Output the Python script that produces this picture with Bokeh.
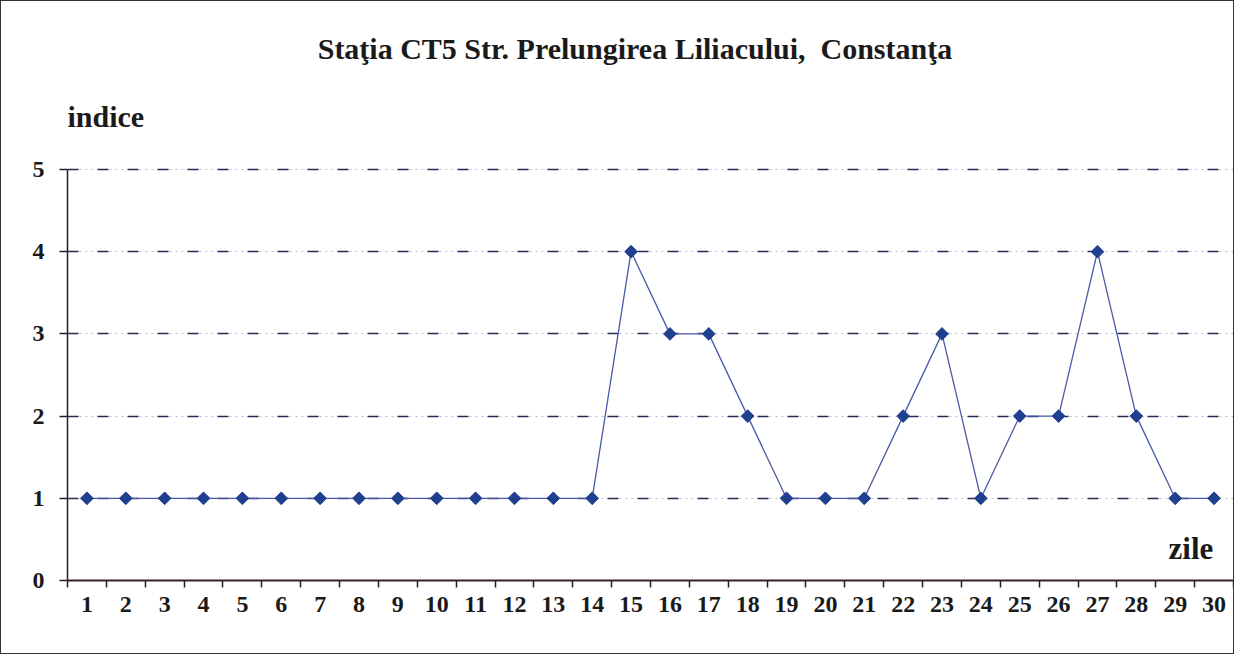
import math
from bokeh.plotting import figure
from bokeh.models import FixedTicker, Label, Range1d, Grid
from bokeh.embed import file_html
from bokeh.resources import INLINE

days = list(range(1, 31))
indice = [1, 1, 1, 1, 1, 1, 1, 1, 1, 1, 1, 1, 1, 1, 4, 3, 3, 2, 1, 1, 1, 2, 3, 1, 2, 2, 4, 2, 1, 1]
y_ticks = [0, 1, 2, 3, 4, 5]
grid_ticks = [1, 2, 3, 4, 5]
title_text = "Staţia CT5 Str. Prelungirea Liliacului,\u00a0 Constanţa"
y_label = "indice"
x_label = "zile"

FONT = "Liberation Serif"

# frame spans almost the whole figure so that texts above the axes are not clipped
Y_TOP = 5 * 575 / 411.0

p = figure(width=1234, height=654, output_backend="svg", toolbar_location=None,
           x_range=Range1d(0.5, 30.5), y_range=Range1d(0, Y_TOP),
           min_border_left=66, min_border_right=2, min_border_top=4, min_border_bottom=75)
p.outline_line_color = None
p.background_fill_color = "white"
p.border_fill_color = "white"
p.styles = {"border": "1px solid #333333"}

# grids
p.xgrid.visible = False
p.ygrid.ticker = FixedTicker(ticks=grid_ticks)
p.ygrid.grid_line_color = "#b8b8c8"
p.ygrid.grid_line_dash = "2 4"
p.ygrid.grid_line_width = 1
g2 = Grid(dimension=1, ticker=FixedTicker(ticks=grid_ticks),
          grid_line_color="#2a2a55", grid_line_dash="11 19", grid_line_width=1.6)
p.add_layout(g2)

# x axis
xa = p.xaxis[0]
xa.ticker = FixedTicker(ticks=days, minor_ticks=[d + 0.5 for d in [0] + days])
xa.major_tick_out = 0
xa.major_tick_in = 0
xa.minor_tick_out = 7
xa.minor_tick_in = 0
xa.minor_tick_line_color = "#222222"
xa.minor_tick_line_width = 1.5
xa.axis_line_color = "#3a2020"
xa.axis_line_width = 2
xa.major_label_text_font = FONT
xa.major_label_text_font_style = "bold"
xa.major_label_text_font_size = "24px"
xa.major_label_text_color = "#1a1a1a"
xa.major_label_standoff = 9

# y axis
ya = p.yaxis[0]
ya.ticker = FixedTicker(ticks=y_ticks)
ya.bounds = (0, 5)
ya.minor_tick_line_color = None
ya.major_tick_out = 8
ya.major_tick_in = 0
ya.major_tick_line_color = "#222222"
ya.major_tick_line_width = 1.5
ya.axis_line_color = "#222222"
ya.axis_line_width = 1.5
ya.major_label_text_font = FONT
ya.major_label_text_font_style = "bold"
ya.major_label_text_font_size = "24px"
ya.major_label_text_color = "#1a1a1a"
ya.major_label_standoff = 15

# data
p.line(days, indice, line_color="#4a5aa8", line_width=1.3)
p.scatter(days, indice, marker="square", angle=math.pi / 4, size=9,
          fill_color="#1f3f8f", line_color="#1f3f8f")

# texts
p.add_layout(Label(x=15.1, y=6.472, text=title_text, text_font=FONT, text_font_style="bold",
                   text_font_size="30px", text_align="center", text_baseline="middle",
                   text_color="#1a1a1a"))
p.add_layout(Label(x=0.5, y=5.645, text=y_label, text_font=FONT, text_font_style="bold",
                   text_font_size="30px", text_align="left", text_baseline="middle",
                   text_color="#1a1a1a"))
p.add_layout(Label(x=29.98, y=0.39, text=x_label, text_font=FONT, text_font_style="bold",
                   text_font_size="31px", text_align="right", text_baseline="middle",
                   text_color="#1a1a1a"))

open("out.html", "w").write(file_html(p, INLINE))
